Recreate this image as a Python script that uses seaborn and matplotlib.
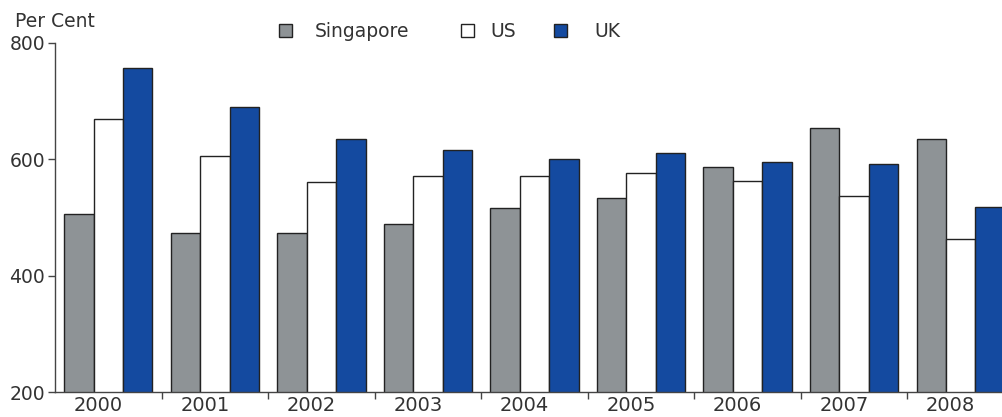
import numpy as np
import pandas as pd
import matplotlib
matplotlib.use("Agg")
import matplotlib.pyplot as plt
import matplotlib.transforms as mtransforms
from matplotlib.ticker import FixedLocator
import seaborn as sns

years = ["2000", "2001", "2002", "2003", "2004", "2005", "2006", "2007", "2008"]
singapore = [505, 473, 473, 489, 516, 534, 586, 653, 634]
us = [669, 605, 560, 571, 571, 577, 563, 536, 462]
uk = [756, 690, 634, 616, 600, 610, 595, 592, 517]
series_names = ["Singapore", "US", "UK"]
colors = ["#8E9396", "#FFFFFF", "#144AA0"]

df = pd.DataFrame({
    "Year": years * 3,
    "Value": singapore + us + uk,
    "Country": [series_names[0]] * 9 + [series_names[1]] * 9 + [series_names[2]] * 9,
})

sns.set_theme(style="white")
plt.rcParams["font.family"] = ["DejaVu Sans"]
text_color = "#333333"

fig = plt.figure(figsize=(10.02, 4.17), dpi=100)
ax = fig.add_axes([55 / 1002, 25 / 417, 959 / 1002, 349.3 / 417])

sns.barplot(data=df, x="Year", y="Value", hue="Country", hue_order=series_names,
            palette=colors, width=0.83, edgecolor="#222222", linewidth=1.0,
            saturation=1, ax=ax, errorbar=None)

ax.set_ylim(200, 800)
ax.set_xlim(-0.5, 8.5)
ax.set_yticks([200, 400, 600, 800])
ax.set_xlabel("")
ax.set_ylabel("")
for s in ["top", "right"]:
    ax.spines[s].set_visible(False)
for s in ["left", "bottom"]:
    ax.spines[s].set_color("#444444")
    ax.spines[s].set_linewidth(1.0)

ax.tick_params(axis="y", which="major", length=5, width=1, color="#444444",
               labelsize=13.5, labelcolor=text_color, pad=2, left=True)
ax.tick_params(axis="x", which="major", length=0, labelsize=14,
               labelcolor=text_color, pad=3)
ax.xaxis.set_minor_locator(FixedLocator(np.arange(0.5, 8.5, 1.0)))
ax.tick_params(axis="x", which="minor", length=5, width=1, color="#444444",
               bottom=True)

# labels sit slightly left of the category centres in the reference
shift = mtransforms.ScaledTranslation(-10 / 100, 0, fig.dpi_scale_trans)
for lab in ax.get_xticklabels():
    lab.set_transform(lab.get_transform() + shift)

handles, labels = ax.get_legend_handles_labels()
if ax.get_legend() is not None:
    ax.get_legend().remove()
anchors = [262, 444, 537]
pads = [1.2, 0.85, 1.45]
for h, l, xa, p in zip(handles, labels, anchors, pads):
    lg = fig.legend([h], [l], loc="upper left",
                    bbox_to_anchor=(xa / 1002, 1 - 5 / 417),
                    frameon=False, fontsize=13.5, handlelength=0.72,
                    handleheight=0.72, handletextpad=p, labelcolor=text_color)

fig.text(15 / 1002, 1 - 12 / 417, "Per Cent", ha="left", va="top",
         fontsize=13.5, color=text_color)

fig.savefig("out.png", dpi=100)
